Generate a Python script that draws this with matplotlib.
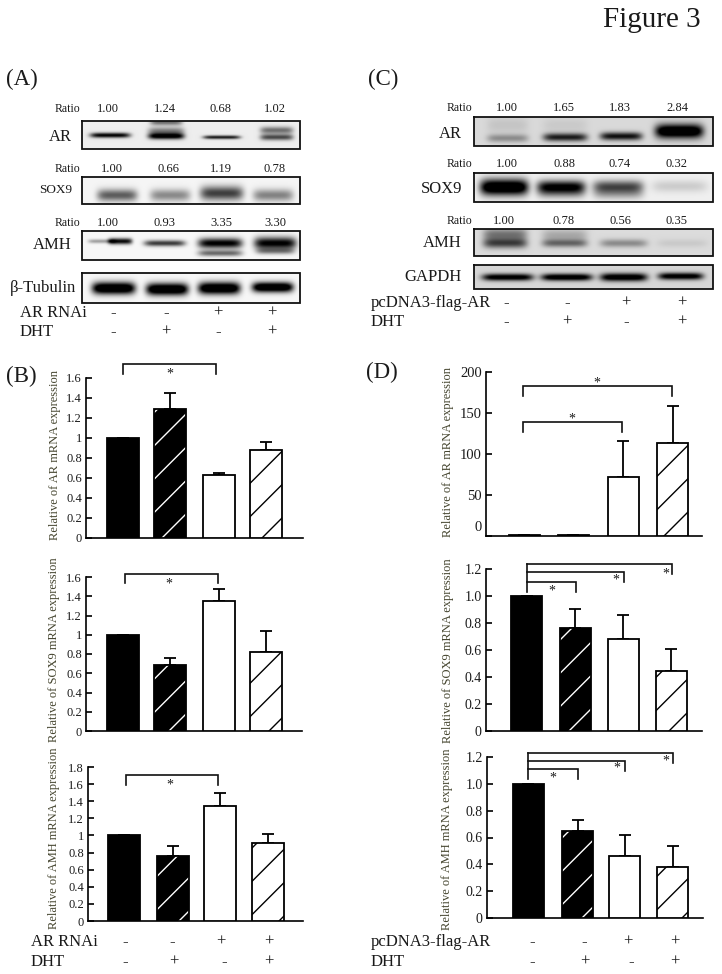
import numpy as np
import matplotlib
matplotlib.use('Agg')
import matplotlib.pyplot as plt
from matplotlib.transforms import ScaledTranslation

plt.rcParams['font.family'] = ['Liberation Serif', 'DejaVu Serif']
plt.rcParams['hatch.linewidth'] = 1.0
W, H = 722, 974
INK = '#1a1a1a'
YLAB = '#45452f'

# mRNA bars: values and upper error
b1_vals = [1.0, 1.29, 0.63, 0.88]
b1_err = [0, 0.16, 0.02, 0.08]
b2_vals = [1.0, 0.685, 1.354, 0.82]
b2_err = [0, 0.075, 0.121, 0.22]
b3_vals = [1.0, 0.76, 1.34, 0.915]
b3_err = [0, 0.115, 0.155, 0.10]
d1_vals = [1, 1, 72, 114]
d1_err = [0, 0, 44, 44]
d2_vals = [1.0, 0.765, 0.684, 0.447]
d2_err = [0, 0.14, 0.173, 0.163]
d3_vals = [1.0, 0.645, 0.465, 0.38]
d3_err = [0, 0.085, 0.152, 0.16]

b_ticks = [0, 0.2, 0.4, 0.6, 0.8, 1, 1.2, 1.4, 1.6]
b3_ticks = b_ticks + [1.8]
d1_ticks = [0, 50, 100, 150, 200]
d_ticks = [0, 0.2, 0.4, 0.6, 0.8, 1.0, 1.2]
d_ticklabels = ['0', '0.2', '0.4', '0.6', '0.8', '1.0', '1.2']

rnai_row = ['-', '-', '+', '+']
flag_row = ['-', '-', '+', '+']
dht_row = ['-', '+', '-', '+']

ratio_a = [['1.00', '1.24', '0.68', '1.02'],
           ['1.00', '0.66', '1.19', '0.78'],
           ['1.00', '0.93', '3.35', '3.30']]
ratio_c = [['1.00', '1.65', '1.83', '2.84'],
           ['1.00', '0.88', '0.74', '0.32'],
           ['1.00', '0.78', '0.56', '0.35']]

# blot bands, each one: x0, x1, y centre, half height, darkness
a_ar = [(90, 130, 135, 2.5, .95), (148, 184, 136, 3, 1), (148, 184, 131, 4, .45), (150, 182, 122, 3, .5),
        (203, 240, 137, 1.8, .85), (260, 293, 137, 3, .65), (260, 293, 130, 3.5, .5)]
a_sox9 = [(97, 137, 195, 6, .6), (150, 190, 195, 6, .42), (200, 243, 193, 7, .72), (253, 293, 195, 6, .45)]
a_amh = [(88, 115, 241, 2, .35), (108, 132, 241, 3, .95), (144, 185, 243, 3, .75), (198, 242, 243, 5, 1),
         (198, 242, 253, 3, .55), (254, 296, 243, 6, 1), (256, 294, 251, 3, .4)]
a_tub = [(92, 135, 288, 6, 1.3), (146, 188, 289, 6, 1.3), (198, 240, 288, 6, 1.3), (252, 293, 287, 5, 1.3)]
c_ar = [(487, 528, 138, 4, .3), (487, 528, 125, 8, .08), (543, 587, 137, 4, .75), (543, 587, 125, 7, .06),
        (600, 642, 136, 4, .8), (655, 703, 131, 7, 1.15)]
c_sox9 = [(480, 528, 187, 8, 1.25), (537, 585, 186, 6, .85), (537, 585, 192, 6, .4), (593, 643, 186, 6, .6),
          (593, 643, 193, 6, .3), (652, 707, 186, 6, .14)]
c_amh = [(483, 527, 243, 5, .6), (483, 527, 234, 6, .4), (542, 587, 243, 4, .45), (542, 587, 235, 6, .2),
         (600, 647, 243, 4, .32), (657, 707, 243, 4, .07)]
c_gapdh = [(482, 533, 277, 3.5, .95), (541, 592, 277, 3.5, 1), (600, 647, 277, 4, 1), (658, 703, 276, 3.5, .95)]


def px_rect(x0, y0, x1, y1):
    return [x0 / W, 1 - y1 / H, (x1 - x0) / W, (y1 - y0) / H]


def bar_panel(fig, x0, x1, ybase, ytop, ymax, centers, vals, errs, ticks, labels=None, tsize=9, bw=32):
    ax = fig.add_axes(px_rect(x0, ytop, x1, ybase))
    ax.set_xlim(x0, x1)
    ax.set_ylim(0, ymax)
    ax.patch.set_alpha(0)
    # black fill, white hatch, black hatch, white
    ax.bar(centers[0], vals[0], bw, color='black', edgecolor='black', linewidth=1.3, zorder=3)
    ax.bar(centers[1], vals[1], bw, color='black', edgecolor='white', hatch='/', linewidth=0, zorder=3)
    ax.bar(centers[1], vals[1], bw, fill=False, edgecolor='black', linewidth=1.3, zorder=4)
    ax.bar(centers[2], vals[2], bw, color='white', edgecolor='black', linewidth=1.3, zorder=3)
    ax.bar(centers[3], vals[3], bw, color='white', edgecolor='black', hatch='/', linewidth=1.3, zorder=3)
    ax.errorbar(centers, vals, yerr=[np.zeros(4), errs], fmt='none', ecolor='black', elinewidth=1.3,
                capsize=4, capthick=1.3, zorder=2)
    for s in ['top', 'right']:
        ax.spines[s].set_visible(False)
    ax.spines['left'].set_linewidth(1.2)
    ax.spines['bottom'].set_linewidth(1.2)
    ax.set_xticks([])
    ax.set_yticks(ticks)
    if labels is not None:
        ax.set_yticklabels(labels)
    else:
        ax.set_yticklabels([('%g' % t) for t in ticks])
    ax.tick_params(axis='y', direction='in', length=4.5, width=1.2, pad=3, labelsize=tsize, labelcolor=INK)
    return ax


def blot(pg, x0, y0, x1, y1, bands, bg):
    xs = np.arange(x0, x1, 0.5)
    ys = np.arange(y0, y1, 0.5)
    xx, yy = np.meshgrid(xs, ys)
    dark = np.zeros_like(xx)
    for bx0, bx1, cy, h, d in bands:
        cx = (bx0 + bx1) / 2
        w = (bx1 - bx0) / 2
        dark += d * np.exp(-((xx - cx) / w) ** 6 - ((yy - cy) / h) ** 2)
    img = np.clip(bg - dark, 0, 1)
    pg.imshow(img, extent=(x0, x1, y1, y0), cmap='gray', vmin=0, vmax=1, aspect='auto',
              interpolation='bilinear', zorder=1)
    pg.plot([x0, x1, x1, x0, x0], [y0, y0, y1, y1, y0], color='#111111', lw=1.3, zorder=2,
            solid_joinstyle='miter')


def bracket(pg, x0, x1, y, ytip0, ytip1):
    pg.plot([x0, x0, x1, x1], [ytip0, y, y, ytip1], color='#111111', lw=1.2, solid_joinstyle='miter')


def star(pg, x, y):
    pg.text(x, y, '*', fontsize=10, ha='center', va='center', color=INK)


fig = plt.figure(figsize=(W / 100, H / 100), dpi=100)

b_x = [122.5, 169.5, 218.5, 266]
b3_x = [123.5, 172.5, 220, 268]
d_x1 = [524, 573, 623, 672.5]
d_x2 = [526.5, 575, 623, 671]
d_x3 = [528, 577.5, 624.5, 672.5]

bar_panel(fig, 86, 303, 538, 378, 1.6, b_x, b1_vals, b1_err, b_ticks)
bar_panel(fig, 86, 302, 731, 577, 1.6, b_x, b2_vals, b2_err, b_ticks)
bar_panel(fig, 88, 303, 921, 767, 1.8, b3_x, b3_vals, b3_err, b3_ticks)
ax_d1 = bar_panel(fig, 486, 702, 536, 372, 200, d_x1, d1_vals, d1_err, d1_ticks, tsize=10.5, bw=31)
bar_panel(fig, 486, 702, 731, 569, 1.2, d_x2, d2_vals, d2_err, d_ticks, d_ticklabels, tsize=10, bw=31)
bar_panel(fig, 487, 703, 918, 757, 1.2, d_x3, d3_vals, d3_err, d_ticks, d_ticklabels, tsize=10, bw=31)
# the 0 of this axis sits above the baseline
lab0 = ax_d1.get_yticklabels()[0]
lab0.set_transform(lab0.get_transform() + ScaledTranslation(0, 7 / 72, fig.dpi_scale_trans))

pg = fig.add_axes([0, 0, 1, 1], zorder=10)

blot(pg, 82, 121, 300, 149, a_ar, .93)
blot(pg, 82, 177, 300, 204, a_sox9, .96)
blot(pg, 82, 231, 300, 260, a_amh, .97)
blot(pg, 82, 273, 300, 303, a_tub, .97)
blot(pg, 474, 117, 713, 146, c_ar, .85)
blot(pg, 474, 173, 713, 202, c_sox9, .94)
blot(pg, 474, 229, 713, 256, c_amh, .86)
blot(pg, 474, 265, 713, 289, c_gapdh, .84)

pg.set_xlim(0, W)
pg.set_ylim(H, 0)
pg.axis('off')


def t(x, y, s, size, ha='center', **kw):
    pg.text(x, y, s, fontsize=size, ha=ha, va='center', color=INK, **kw)


t(701, 20, 'Figure 3', 21, ha='right')
t(6, 79, '(A)', 16.5, ha='left')
t(368, 79, '(C)', 16.5, ha='left')
t(6, 376, '(B)', 16.5, ha='left')
t(366, 372, '(D)', 16.5, ha='left')

# ratio rows
a_ratio_x = [[108, 165, 221, 275], [112, 168, 221, 275], [108, 165, 221, 275]]
c_ratio_x = [[507, 564, 620, 677], [507, 564, 620, 677], [504, 564, 620, 677]]
for row, xs, y in zip(ratio_a, a_ratio_x, [109, 169, 223]):
    t(80, y, 'Ratio', 8.5, ha='right')
    for x, s in zip(xs, row):
        t(x, y, s, 9)
for row, xs, y in zip(ratio_c, c_ratio_x, [108, 164, 221]):
    t(472, y, 'Ratio', 8.5, ha='right')
    for x, s in zip(xs, row):
        t(x, y, s, 9)

t(72, 137, 'AR', 12, ha='right')
t(72, 190, 'SOX9', 9.5, ha='right')
t(72, 245, 'AMH', 12, ha='right')
t(76, 288, 'β-Tubulin', 12, ha='right')
t(462, 134, 'AR', 12, ha='right')
t(462, 189, 'SOX9', 12, ha='right')
t(462, 243, 'AMH', 12, ha='right')
t(462, 277, 'GAPDH', 12, ha='right')

# +/- rows
t(20, 313, 'AR RNAi', 12, ha='left')
t(20, 332, 'DHT', 12, ha='left')
t(371, 303, 'pcDNA3-flag-AR', 12, ha='left')
t(371, 322, 'DHT', 12, ha='left')
t(31, 942, 'AR RNAi', 12, ha='left')
t(31, 962, 'DHT', 12, ha='left')
t(371, 942, 'pcDNA3-flag-AR', 12, ha='left')
t(371, 962, 'DHT', 12, ha='left')
for xs, y, row in [([113, 166, 218, 272], 313, rnai_row), ([113, 166, 218, 272], 332, dht_row),
                   ([506, 567, 626, 682], 303, flag_row), ([506, 567, 626, 682], 322, dht_row),
                   ([125, 172, 221, 269], 942, rnai_row), ([125, 174, 224, 269], 962, dht_row),
                   ([532, 584, 628, 675], 942, flag_row), ([532, 585, 631, 675], 962, dht_row)]:
    for x, s in zip(xs, row):
        t(x, y, s, 12)

# y axis titles
for x, y, name in [(55, 455, 'AR'), (54, 650, 'SOX9'), (54, 838, 'AMH'),
                   (448, 452, 'AR'), (448, 651, 'SOX9'), (447, 839, 'AMH')]:
    pg.text(x, y, 'Relative of %s mRNA expression' % name, fontsize=9, rotation=90, ha='center', va='center',
            color=YLAB)

# significance brackets
bracket(pg, 123, 216, 364, 374, 374)
star(pg, 170, 374)
bracket(pg, 125, 218, 574, 583, 583)
star(pg, 169, 584)
bracket(pg, 126, 218, 775, 785, 785)
star(pg, 170, 785)
bracket(pg, 523, 672, 386, 396, 396)
star(pg, 597, 383)
bracket(pg, 523, 622, 422, 432, 432)
star(pg, 572, 419)
for vx, tops, ends, tips, stars, sy in [
    (527, [564, 572, 582], [672, 624, 576], [574, 582, 592], [666, 616, 552], [574, 580, 591]),
    (528, [753, 761, 769], [673, 625, 578], [763, 771, 779], [666, 617, 553], [761, 768, 778]),
]:
    pg.plot([vx, vx], [tops[0], tips[2]], color='#111111', lw=1.2)
    for top, end, tip, sx, y in zip(tops, ends, tips, stars, sy):
        bracket(pg, vx, end, top, top, tip)
        star(pg, sx, y)

fig.savefig('out.png', dpi=100)
